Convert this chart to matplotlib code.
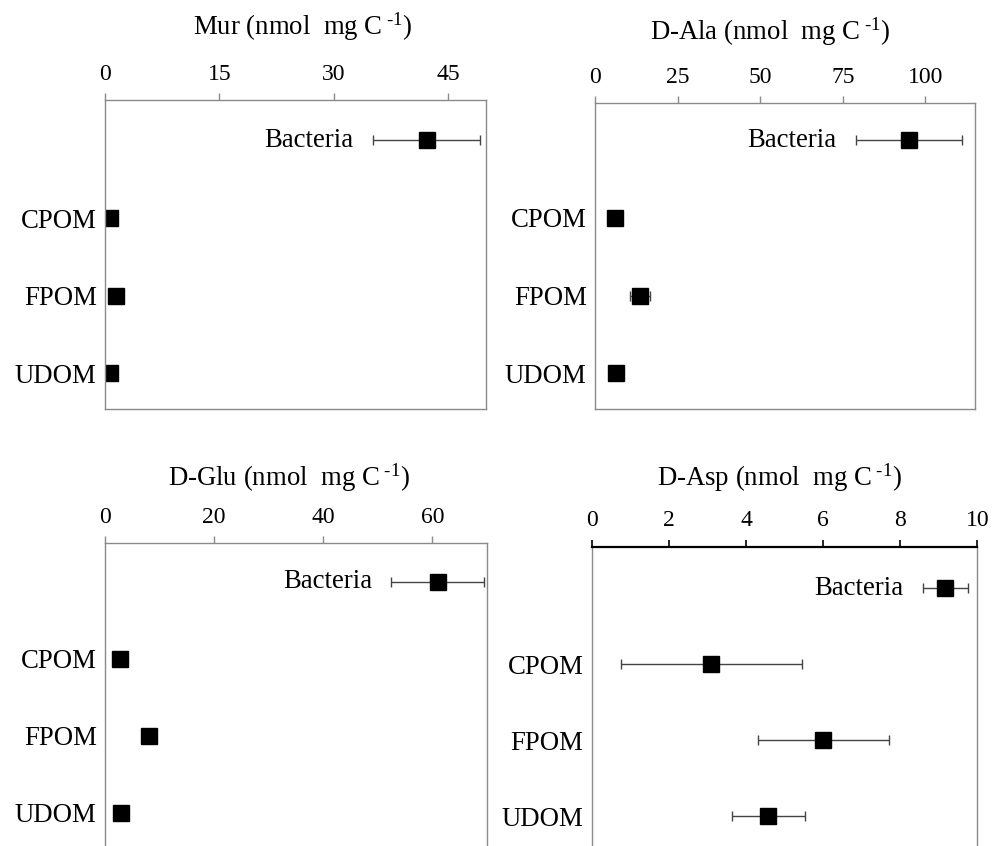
import numpy as np
import matplotlib
matplotlib.use("Agg")
import matplotlib.pyplot as plt

plt.rcParams["font.family"] = ["Liberation Serif", "DejaVu Serif"]
plt.rcParams["mathtext.fontset"] = "custom"
plt.rcParams["mathtext.rm"] = "Liberation Serif"
plt.rcParams["mathtext.it"] = "Liberation Serif:italic"

# categories, top to bottom
categories = ["Bacteria", "CPOM", "FPOM", "UDOM"]
ypos = [4, 3, 2, 1]

# values (nmol mg C-1)
mur_mean = [42.2, 0.7, 1.4, 0.7]
mur_err = [7.0, 0.0, 0.0, 0.0]

dala_mean = [95.0, 6.0, 13.5, 6.4]
dala_err = [16.0, 0.0, 3.0, 0.5]

dglu_mean = [61.0, 2.7, 8.0, 3.0]
dglu_err = [8.5, 0.0, 0.0, 0.0]

dasp_mean = [9.17, 3.1, 6.0, 4.58]
dasp_err = [0.58, 2.35, 1.7, 0.95]

panels = [
    dict(name="Mur", mean=mur_mean, err=mur_err, xlim=(0, 50), ticks=[0, 15, 30, 45],
         rect=[0.1056, 0.5165, 0.3833, 0.3653], ylim=(0.54, 4.52),
         title_xy=(303, 35), top_black=False),
    dict(name="D-Ala", mean=dala_mean, err=dala_err, xlim=(0, 115), ticks=[0, 25, 50, 75, 100],
         rect=[0.5986, 0.5165, 0.3823, 0.3617], ylim=(0.54, 4.48),
         title_xy=(770, 40), top_black=False),
    dict(name="D-Glu", mean=dglu_mean, err=dglu_err, xlim=(0, 70), ticks=[0, 20, 40, 60],
         rect=[0.1056, -0.0063, 0.3843, 0.3641], ylim=(0.5, 4.5),
         title_xy=(289, 486), top_black=False),
    dict(name="D-Asp", mean=dasp_mean, err=dasp_err, xlim=(0, 10), ticks=[0, 2, 4, 6, 8, 10],
         rect=[0.5953, -0.0095, 0.3880, 0.3633], ylim=(0.5, 4.55),
         title_xy=(779, 486), top_black=True),
]

W, H = 994, 846
fig = plt.figure(figsize=(W / 100, H / 100), dpi=100)

for p in panels:
    ax = fig.add_axes(p["rect"])
    ax.errorbar(p["mean"], ypos, xerr=p["err"], fmt="s", color="black",
                ecolor="#444444", elinewidth=1.0, capsize=3.6, capthick=1.0,
                markersize=11)
    ax.set_xlim(*p["xlim"])
    ax.set_ylim(*p["ylim"])
    ax.xaxis.tick_top()
    ax.set_xticks(p["ticks"])
    ax.set_xticklabels([str(t) for t in p["ticks"]])
    ax.set_yticks(ypos[1:])
    ax.set_yticklabels(categories[1:])
    ax.tick_params(axis="y", length=0, pad=6, labelsize=19.3)
    spine_col = "#8a8a8a"
    for s in ax.spines.values():
        s.set_color(spine_col)
        s.set_linewidth(1.0)
    if p["top_black"]:
        ax.spines["top"].set_color("black")
        ax.spines["top"].set_linewidth(1.6)
        ax.tick_params(axis="x", color="black", width=1.2)
    else:
        ax.tick_params(axis="x", color=spine_col, width=1.0)
    ax.tick_params(axis="x", length=5, pad=6, labelsize=17)

    # Bacteria label sits inside the axes, left of its error bar
    lo = p["mean"][0] - p["err"][0]
    ax.annotate(categories[0], xy=(lo, ypos[0]), xytext=(-14, 0),
                textcoords="offset points", ha="right", va="center",
                fontsize=19.3)

    tx, ty = p["title_xy"]
    fig.text(tx / W, 1 - ty / H, p["name"] + r" (nmol  mg C$^{\text{ -1}}$)",
             ha="center", va="baseline", fontsize=19.3)

fig.savefig("out.png", dpi=100)
